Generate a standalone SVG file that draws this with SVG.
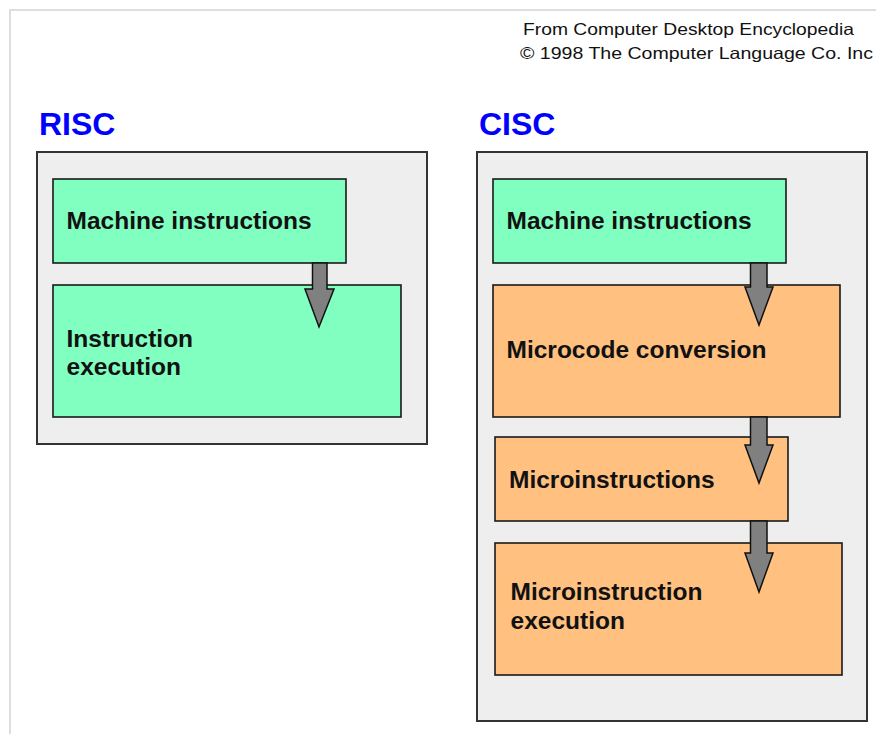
<svg xmlns="http://www.w3.org/2000/svg" width="876" height="734" viewBox="0 0 876 734">
  <style>
    .frame { fill: none; stroke: #dedede; stroke-width: 2; }
    .panel { fill: #eeeeee; stroke: #333333; stroke-width: 2; }
    .green { fill: #80ffc0; stroke: #1a1a1a; stroke-width: 1.6; }
    .orange { fill: #ffc080; stroke: #1a1a1a; stroke-width: 1.6; }
    .label { font-family: "Liberation Sans", Arial, sans-serif; font-weight: bold; font-size: 24.5px; fill: #111111; }
    .title { font-family: "Liberation Sans", Arial, sans-serif; font-weight: bold; font-size: 32px; fill: #0000ff; }
    .credit { font-family: "Liberation Sans", Arial, sans-serif; font-size: 16.5px; fill: #111111; }
    .arrow { fill: #808080; stroke: #111111; stroke-width: 1.5; stroke-linejoin: miter; }
  </style>

  <rect x="0" y="0" width="876" height="734" fill="#ffffff"/>
  <path class="frame" d="M10,734 V10 H876"/>

  <g id="credit">
    <text class="credit" x="523" y="34.5" textLength="331" lengthAdjust="spacingAndGlyphs">From Computer Desktop Encyclopedia</text>
    <text class="credit" x="520" y="58.5" textLength="353" lengthAdjust="spacingAndGlyphs">© 1998 The Computer Language Co. Inc</text>
  </g>

  <!-- RISC side -->
  <g id="risc">
    <text class="title" x="39" y="135">RISC</text>
    <rect class="panel" x="37" y="152" width="390" height="292"/>
  </g>
  <g id="risc-machine-instructions">
    <rect class="green" x="53" y="179" width="293" height="84"/>
    <text class="label" x="66.5" y="229">Machine instructions</text>
  </g>
  <g id="risc-instruction-execution">
    <rect class="green" x="53" y="285" width="348" height="132"/>
    <text class="label" x="66.5" y="346.5">Instruction</text>
    <text class="label" x="66.5" y="375">execution</text>
  </g>

  <!-- CISC side -->
  <g id="cisc">
    <text class="title" x="479" y="135">CISC</text>
    <rect class="panel" x="477" y="152" width="390" height="569"/>
  </g>
  <g id="cisc-machine-instructions">
    <rect class="green" x="493" y="179" width="293" height="84"/>
    <text class="label" x="506.5" y="229">Machine instructions</text>
  </g>
  <g id="microcode-conversion">
    <rect class="orange" x="493" y="285" width="347" height="132"/>
    <text class="label" x="506.5" y="358">Microcode conversion</text>
  </g>
  <g id="microinstructions">
    <rect class="orange" x="495" y="437" width="293" height="84"/>
    <text class="label" x="509" y="487.5">Microinstructions</text>
  </g>
  <g id="microinstruction-execution">
    <rect class="orange" x="495" y="543" width="347" height="132"/>
    <text class="label" x="510.5" y="600">Microinstruction</text>
    <text class="label" x="510.5" y="629">execution</text>
  </g>

  <!-- block arrows, each shaft leaving the bottom edge of the box above -->
  <g id="connectors">
    <polygon class="arrow" points="312.5,263 327,263 327,289 334,289 319,327 305,289 312.5,289"/>
    <polygon class="arrow" points="750.5,263 767,263 767,287 773,287 759,325 745,287 750.5,287"/>
    <polygon class="arrow" points="750.5,417 767,417 767,445 773,445 759,483 745,445 750.5,445"/>
    <polygon class="arrow" points="750.5,521 767,521 767,553 773,553 759,592 745,553 750.5,553"/>
  </g>
</svg>
